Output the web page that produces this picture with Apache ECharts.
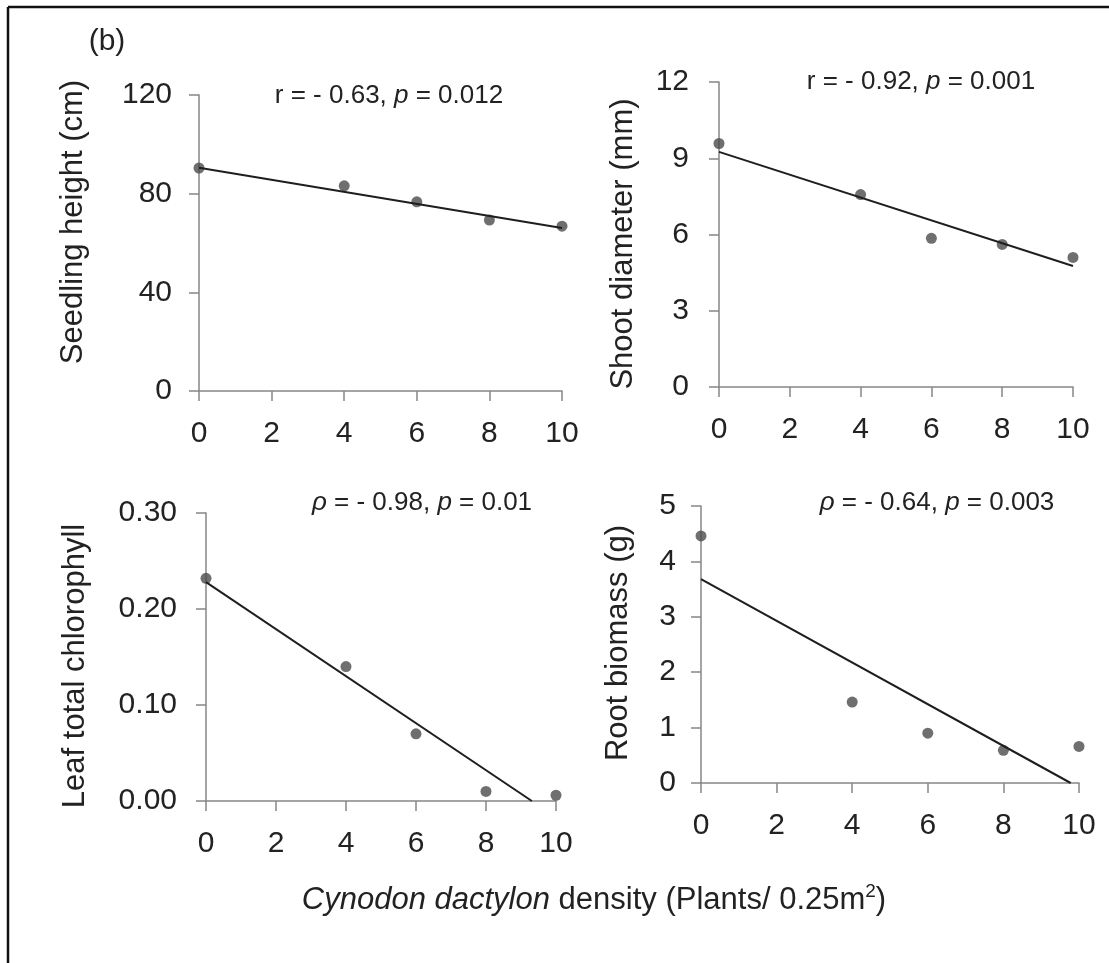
<!DOCTYPE html>
<html>
<head>
<meta charset="utf-8">
<script src="https://cdn.jsdelivr.net/npm/echarts@6/dist/echarts.min.js"></script>
<style>
  html, body { margin: 0; padding: 0; background: #fff; }
  #chart { width: 1109px; height: 963px; }
</style>
</head>
<body>
<div id="chart"></div>
<script>
// Plant density (x) shared by all four panels
const density = [0, 4, 6, 8, 10];

// Measured responses
const seedlingHeight = [90.4, 83.2, 76.7, 69.3, 66.8];
const shootDiameter = [9.58, 7.57, 5.85, 5.61, 5.10];
const leafChlorophyll = [0.232, 0.140, 0.070, 0.010, 0.006];
const rootBiomass = [4.46, 1.46, 0.90, 0.59, 0.66];

// Fitted trend lines: [start, end] points
const heightFit = [[0, 90.5], [10, 66.1]];
const diameterFit = [[0, 9.25], [10, 4.76]];
const chlorophyllFit = [[0, 0.228], [9.31, 0]];
const biomassFit = [[0, 3.68], [9.78, 0]];

// Axis ranges
const xRange = { min: 0, max: 10, interval: 2 };
const heightRange = { min: 0, max: 120, interval: 40 };
const diameterRange = { min: 0, max: 12, interval: 3 };
const chlorophyllRange = { min: 0, max: 0.3, interval: 0.1 };
const biomassRange = { min: 0, max: 5, interval: 1 };

// Text
const yTitles = ['Seedling height (cm)', 'Shoot diameter (mm)', 'Leaf total chlorophyll', 'Root biomass (g)'];
const statsText = [
  '{a|r = - 0.63, }{i|p}{a| = 0.012}',
  '{a|r = - 0.92, }{i|p}{a| = 0.001}',
  '{i|ρ}{a| = - 0.98, }{i|p}{a| = 0.01}',
  '{i|ρ}{a| = - 0.64, }{i|p}{a| = 0.003}'
];

const FONT = "'Liberation Sans', Arial, Helvetica, sans-serif";
const AXIS_COLOR = '#868686';
const TEXT_COLOR = '#222';

const grids = [
  { left: 199, top: 95, width: 363, height: 296 },
  { left: 719, top: 82, width: 354, height: 305 },
  { left: 206, top: 513, width: 350, height: 288 },
  { left: 701, top: 506, width: 378, height: 277 }
];
const yLabelMargin = [27, 30, 29, 25];

function xAxisFor(i) {
  return {
    type: 'value', gridIndex: i,
    min: xRange.min, max: xRange.max, interval: xRange.interval,
    splitLine: { show: false },
    axisLine: { show: true, onZero: false, lineStyle: { color: AXIS_COLOR, width: 1.5 } },
    axisTick: { show: true, inside: false, length: 10, lineStyle: { color: AXIS_COLOR, width: 1.5 } },
    axisLabel: { fontFamily: FONT, fontSize: 30, color: TEXT_COLOR, margin: 28 }
  };
}
function yAxisFor(i, range, decimals) {
  return {
    type: 'value', gridIndex: i,
    min: range.min, max: range.max, interval: range.interval,
    splitLine: { show: false },
    axisLine: { show: true, onZero: false, lineStyle: { color: AXIS_COLOR, width: 1.5 } },
    axisTick: { show: true, inside: false, length: 10, lineStyle: { color: AXIS_COLOR, width: 1.5 } },
    axisLabel: {
      fontFamily: FONT, fontSize: 30, color: TEXT_COLOR, margin: yLabelMargin[i],
      formatter: v => v.toFixed(decimals)
    }
  };
}

function points(ys) { return density.map((x, k) => [x, ys[k]]); }

function scatterFor(i, ys) {
  return {
    type: 'scatter', xAxisIndex: i, yAxisIndex: i,
    data: points(ys), symbol: 'circle', symbolSize: 11,
    itemStyle: { color: '#4b4b4b' }, z: 3, silent: true
  };
}
function fitFor(i, seg) {
  return {
    type: 'line', xAxisIndex: i, yAxisIndex: i,
    data: seg, symbol: 'none', silent: true,
    lineStyle: { color: '#1e1e1e', width: 2 }, z: 4
  };
}

// Label placement (centres) for stats text and rotated axis titles
const statsPos = [[389, 96], [921, 82], [422, 503], [937, 503]];
const yTitlePos = [[73, 222], [623, 244], [75, 666], [618, 643]];

const graphic = [];
// Frame lines
graphic.push({ type: 'line', shape: { x1: 8, y1: 7, x2: 1109, y2: 7 }, style: { stroke: '#111', lineWidth: 2.5 } });
graphic.push({ type: 'line', shape: { x1: 8, y1: 7, x2: 8, y2: 963 }, style: { stroke: '#111', lineWidth: 2.5 } });
// Panel tag
graphic.push({ type: 'text', x: 107, y: 42, style: { text: '(b)', font: `30px ${FONT}`, fill: TEXT_COLOR, align: 'center', verticalAlign: 'middle' } });
statsPos.forEach((p, i) => {
  graphic.push({
    type: 'text', x: p[0], y: p[1],
    style: {
      text: statsText[i], align: 'center', verticalAlign: 'middle',
      rich: {
        a: { fontFamily: FONT, fontSize: 26, fill: TEXT_COLOR },
        i: { fontFamily: FONT, fontSize: 26, fontStyle: 'italic', fill: TEXT_COLOR }
      }
    }
  });
});
yTitlePos.forEach((p, i) => {
  graphic.push({
    type: 'text', x: p[0], y: p[1], rotation: Math.PI / 2,
    style: { text: yTitles[i], font: `31px ${FONT}`, fill: TEXT_COLOR, align: 'center', verticalAlign: 'middle' }
  });
});
// Shared x-axis title
graphic.push({
  type: 'text', x: 594, y: 900,
  style: {
    text: '{i|Cynodon dactylon}{a| density (Plants/ 0.25m}{s|2}{a|)}',
    align: 'center', verticalAlign: 'middle',
    rich: {
      a: { fontFamily: FONT, fontSize: 31, fill: TEXT_COLOR, lineHeight: 36 },
      i: { fontFamily: FONT, fontSize: 31, fontStyle: 'italic', fill: TEXT_COLOR, lineHeight: 36 },
      s: { fontFamily: FONT, fontSize: 19, fill: TEXT_COLOR, verticalAlign: 'top', lineHeight: 22 }
    }
  }
});

const option = {
  backgroundColor: '#ffffff',
  animation: false,
  grid: grids,
  xAxis: [0, 1, 2, 3].map(xAxisFor),
  yAxis: [
    yAxisFor(0, heightRange, 0),
    yAxisFor(1, diameterRange, 0),
    yAxisFor(2, chlorophyllRange, 2),
    yAxisFor(3, biomassRange, 0)
  ],
  series: [
    scatterFor(0, seedlingHeight), fitFor(0, heightFit),
    scatterFor(1, shootDiameter), fitFor(1, diameterFit),
    scatterFor(2, leafChlorophyll), fitFor(2, chlorophyllFit),
    scatterFor(3, rootBiomass), fitFor(3, biomassFit)
  ],
  graphic: graphic
};

const chart = echarts.init(document.getElementById('chart'), null, { renderer: 'canvas' });
chart.setOption(option);
</script>
</body>
</html>
